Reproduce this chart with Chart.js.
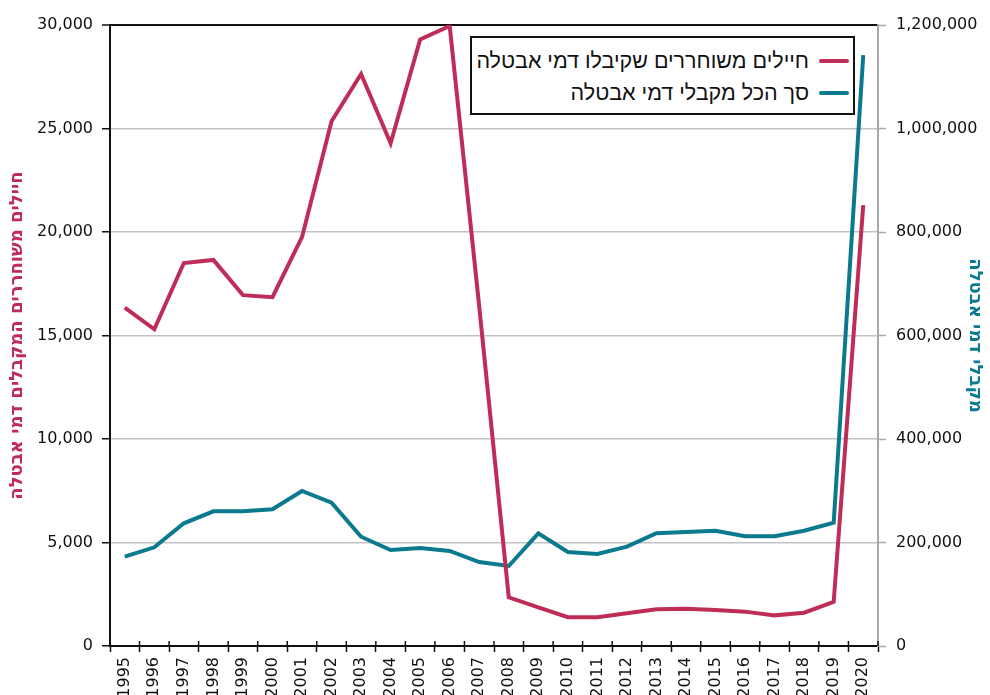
<!DOCTYPE html>
<html lang="he">
<head>
<meta charset="utf-8">
<script src="https://cdn.jsdelivr.net/npm/chart.js@4"></script>
<style>
  body { margin: 0; background: #fff; }
  #wrap { position: relative; width: 990px; height: 695px; overflow: hidden; }
  #legend {
    position: absolute; left: 470px; top: 36px; width: 381px; height: 75px;
    border: 2px solid #111; background: #fff;
    font-family: 'Liberation Sans', Arial, sans-serif; font-size: 21.5px; color: #111;
  }
  .item { position: absolute; right: 0; height: 32px; display: flex; align-items: center; direction: rtl; }
  .item .swatch { width: 30px; height: 4px; border-radius: 2px; margin: 0 4px 0 10px; }
  .item span { white-space: nowrap; }
</style>
</head>
<body>
<div id="wrap">
  <canvas id="chartAvtala" width="990" height="695"></canvas>
  <div id="legend"></div>
</div>
<script>
const YEARS = ['1995', '1996', '1997', '1998', '1999', '2000', '2001', '2002', '2003',
  '2004', '2005', '2006', '2007', '2008', '2009', '2010', '2011', '2012', '2013',
  '2014', '2015', '2016', '2017', '2018', '2019', '2020'];

// חיילים משוחררים שקיבלו דמי אבטלה (left axis)
const SOLDIERS = [16350, 15300, 18500, 18650, 16950, 16850, 19750, 25350, 27630,
  24290, 29300, 29950, 16400, 2350, 1870, 1390, 1390, 1580, 1770,
  1800, 1740, 1660, 1480, 1610, 2130, 21300];

// סך הכל מקבלי דמי אבטלה (right axis)
const TOTAL = [172600, 190700, 237100, 260300, 260300, 264200, 299500, 277000, 211200,
  185500, 189400, 183600, 162300, 154600, 217800, 181600, 177800, 191900, 217800,
  220300, 222800, 212000, 212000, 222800, 238300, 1142000];

const SOLDIERS_LABEL = 'חיילים משוחררים שקיבלו דמי אבטלה';
const TOTAL_LABEL = 'סך הכל מקבלי דמי אבטלה';
const LEFT_TITLE = 'חיילים משוחררים המקבלים דמי אבטלה';
const RIGHT_TITLE = 'מקבלי דמי אבטלה';

const RED = '#be2d57';
const TEAL = '#0b7a8e';
const GRID = '#c2c2c2';
const TICK_FONT = { family: 'DejaVu Sans', size: 16 };
const TITLE_FONT = { family: 'DejaVu Sans', size: 18, weight: 'bold' };

const fmt = (v) => Number(v).toLocaleString('en-US');

// short tick marks that also poke up into the plot area
const xTickStubs = {
  id: 'xTickStubs',
  afterDatasetsDraw(chart) {
    const { ctx, chartArea, scales } = chart;
    const x = scales.x;
    ctx.save();
    ctx.strokeStyle = '#111';
    ctx.lineWidth = 1.5;
    for (let i = 0; i <= YEARS.length; i++) {
      const px = x.getPixelForValue(i - 0.5);
      ctx.beginPath();
      ctx.moveTo(px, chartArea.bottom - 5);
      ctx.lineTo(px, chartArea.bottom);
      ctx.stroke();
    }
    ctx.restore();
  },
};

function renderLegend() {
  const box = document.getElementById('legend');
  [[SOLDIERS_LABEL, RED, 7], [TOTAL_LABEL, TEAL, 39]].forEach(([text, color, top]) => {
    const row = document.createElement('div');
    row.className = 'item';
    row.style.top = top + 'px';
    row.innerHTML = `<div class="swatch" style="background:${color}"></div><span>${text}</span>`;
    box.appendChild(row);
  });
}

const ctx = document.getElementById('chartAvtala').getContext('2d');
new Chart(ctx, {
  type: 'line',
  data: {
    labels: YEARS,
    datasets: [
      {
        label: SOLDIERS_LABEL,
        data: SOLDIERS,
        yAxisID: 'y',
        borderColor: RED,
        borderWidth: 4,
        pointRadius: 0,
        tension: 0,
      },
      {
        label: TOTAL_LABEL,
        data: TOTAL,
        yAxisID: 'y1',
        borderColor: TEAL,
        borderWidth: 4,
        pointRadius: 0,
        tension: 0,
      },
    ],
  },
  options: {
    responsive: false,
    animation: false,
    layout: { padding: { top: 25, left: 0, right: 0, bottom: 0 } },
    plugins: {
      legend: { display: false },
      tooltip: { enabled: false },
    },
    scales: {
      x: {
        type: 'category',
        offset: true,
        afterFit(scale) { scale.height = 49; },
        grid: {
          offset: true,
          drawOnChartArea: false,
          tickLength: 6,
          tickColor: '#111',
          tickWidth: 1.5,
        },
        border: { color: '#111', width: 2 },
        ticks: {
          minRotation: 90,
          maxRotation: 90,
          autoSkip: false,
          padding: 5,
          color: '#111',
          font: TICK_FONT,
        },
      },
      y: {
        position: 'left',
        min: 0,
        max: 30000,
        afterFit(scale) { scale.width = 110; },
        grid: {
          color: (c) => (c.tick && c.tick.value === 30000 ? '#111' : GRID),
          lineWidth: (c) => (c.tick && c.tick.value === 30000 ? 2 : 1.5),
          tickColor: '#111',
          tickLength: 8,
          tickWidth: 1.5,
        },
        border: { color: '#111', width: 2 },
        ticks: {
          stepSize: 5000,
          padding: 9,
          color: '#111',
          font: TICK_FONT,
          callback: (v) => fmt(v),
        },
        title: {
          display: true,
          text: LEFT_TITLE,
          color: RED,
          font: TITLE_FONT,
          padding: { top: 7, bottom: 0 },
        },
      },
      y1: {
        position: 'right',
        min: 0,
        max: 1200000,
        afterFit(scale) { scale.width = 112; },
        grid: {
          drawOnChartArea: false,
          tickColor: '#a8a8a8',
          tickLength: 8,
          tickWidth: 1.5,
        },
        border: { color: '#a8a8a8', width: 2 },
        ticks: {
          stepSize: 200000,
          padding: 10,
          color: '#111',
          font: TICK_FONT,
          callback: (v) => fmt(v),
        },
        title: {
          display: true,
          text: RIGHT_TITLE,
          color: TEAL,
          font: TITLE_FONT,
          padding: { top: 5, bottom: 0 },
        },
      },
    },
  },
  plugins: [xTickStubs],
});

renderLegend();
</script>
</body>
</html>
